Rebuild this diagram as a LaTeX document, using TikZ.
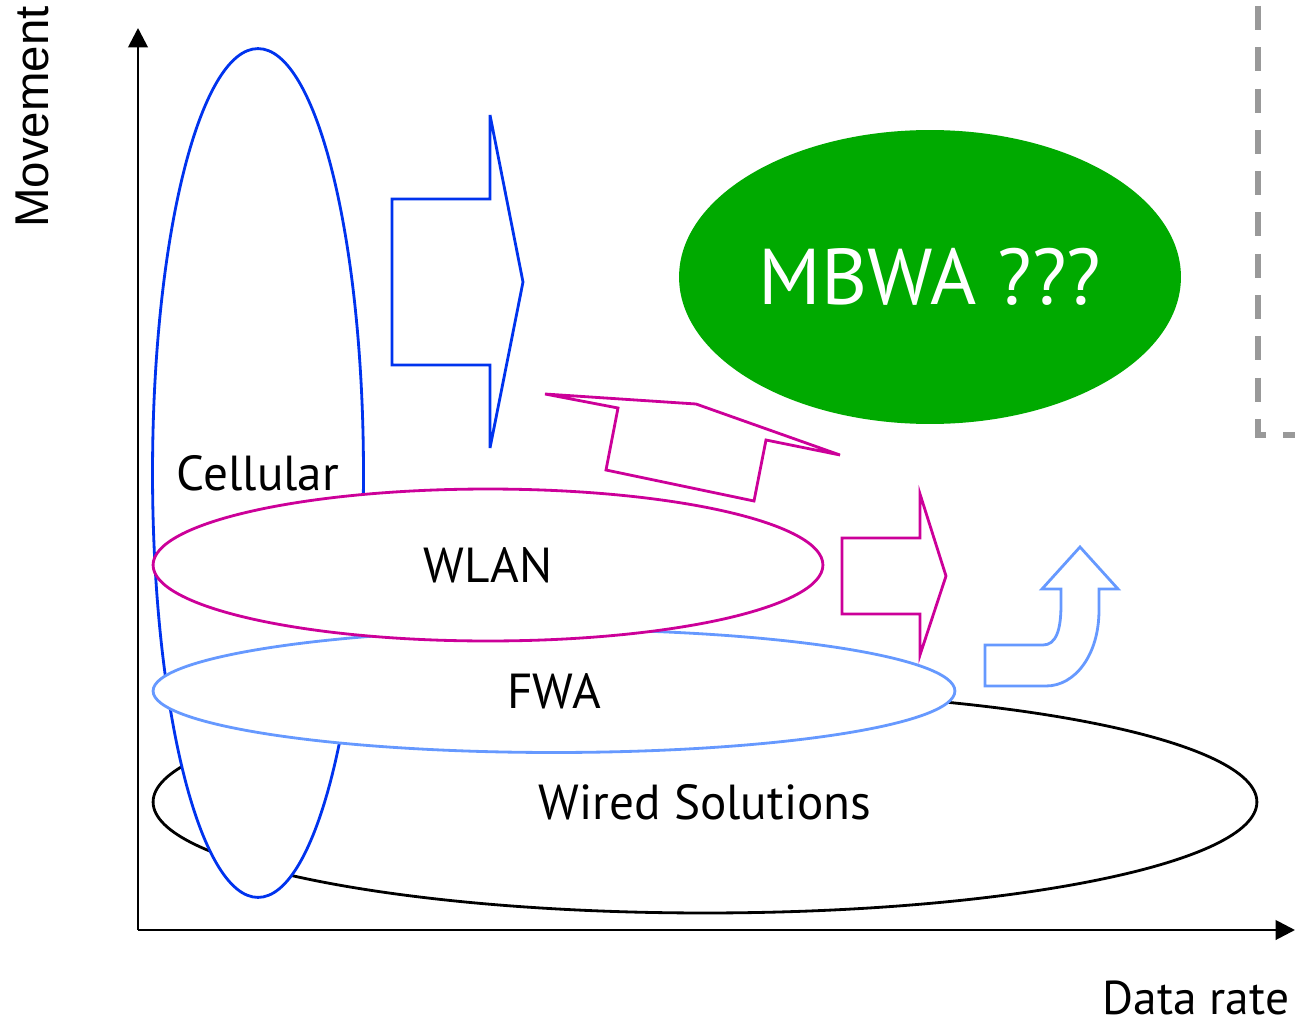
\documentclass[tikz,border=0pt]{standalone}
\usepackage{fontspec}
\setmainfont{PT Sans}
\newfontfamily\axisfont{Liberation Sans}
\usepackage{tikz}
\usetikzlibrary{shapes.geometric, arrows.meta}
\definecolor{cellblue}{RGB}{0,51,238}
\definecolor{wlanmag}{RGB}{204,0,153}
\definecolor{fwablue}{RGB}{102,153,255}
\definecolor{mbgreen}{RGB}{0,170,0}
\definecolor{dashgray}{RGB}{153,153,153}

\begin{document}
\begin{tikzpicture}[
      x=0.02cm, y=-0.02cm,
      >={Triangle[length=11pt, width=11pt]},
      ell/.style={ellipse, draw, fill=white, line width=1.6pt, inner sep=0pt,
                  outer sep=0pt},
      wd/.style={ell, draw=black, minimum width=22.08cm, minimum height=4.44cm},
      cl/.style={ell, draw=cellblue, minimum width=4.22cm, minimum height=16.98cm},
      fw/.style={ell, draw=fwablue, minimum width=16.04cm, minimum height=2.46cm},
      wl/.style={ell, draw=wlanmag, minimum width=13.4cm, minimum height=3.04cm},
      lbl/.style={font=\fontsize{28}{33}\selectfont, inner sep=0pt},
      mb/.style={ellipse, fill=mbgreen, text=white, inner sep=0pt,
                 minimum width=10.04cm, minimum height=5.88cm},
      blk/.style={line width=1.6pt, line join=miter},
      ax/.style={line width=1.6pt}]
    \useasboundingbox (0,0) rectangle (1295,1024);
    % axes
    \coordinate (origin) at (138,930);
    \coordinate (ytop) at (138,28);
    \coordinate (xend) at (1295,930);
    \draw[ax, ->] (origin) -- (ytop);
    \draw[ax, ->] (origin) -- (xend);
    \node[rotate=90, font=\axisfont\fontsize{27}{32}\selectfont, inner sep=0pt] (mov) at (32,117) {Movement};
    \node[lbl, font=\fontsize{27}{32}\selectfont] (rate) at (1196,998) {Data rate};
    % technology areas (back to front)
    \node[wd] (wired) at (705,802) {};
    \node[lbl] at (wired) {Wired Solutions};
    \node[cl] (cell) at (258,473) {};
    \node[lbl] at (cell) {Cellular};
    \node[fw] (fwa) at (554,691) {};
    \node[lbl] at (fwa) {FWA};
    \node[wl] (wlan) at (488,565) {};
    \node[lbl] at (wlan) {WLAN};
    \node[mb] (mbwa) at (930,277) {};
    \node[lbl, text=white, font=\fontsize{45}{52}\selectfont] at (mbwa) {MBWA ???};
    % block arrows
    \draw[blk, cellblue] (392,199) -- (490,199) -- (490,115) -- (523,282)
      -- (490,448) -- (490,365) -- (392,365) -- cycle;
    \draw[blk, wlanmag] (545,394) -- (696,404) -- (840,455) -- (766,440)
      -- (754,501) -- (606,470) -- (618,408) -- cycle;
    \draw[blk, wlanmag] (842,538) -- (920,538) -- (920,494) -- (946,576)
      -- (920,655) -- (920,614) -- (842,614) -- cycle;
    \draw[blk, fwablue] (985,645) -- (1043,645) .. controls (1056,645) and (1061,630) .. (1061,605)
      -- (1061,589) -- (1042,589) -- (1080,547) -- (1118,589) -- (1099,589) -- (1099,610)
      .. controls (1099,655) and (1075,686) .. (1046,686) -- (985,686) -- cycle;
    % dashed frame at right edge
    \draw[dashgray, line width=3.4pt, dash pattern=on 13.65pt off 9.85pt]
      (1258,6) -- (1258,435) -- (1295,435);
  \end{tikzpicture}
\end{document}
